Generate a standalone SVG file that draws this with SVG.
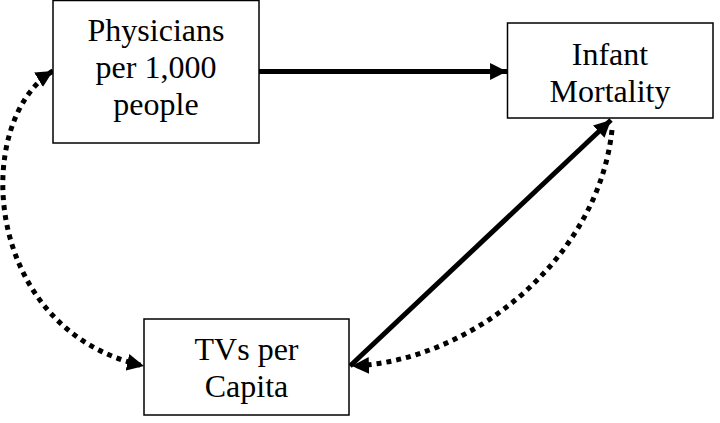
<svg xmlns="http://www.w3.org/2000/svg" width="720" height="423" viewBox="0 0 720 423">
<style>
.box{fill:#fff;stroke:#000;stroke-width:1.5}
.lbl{font-family:"Liberation Serif","Times New Roman",serif;font-size:32px;fill:#000;text-anchor:middle}
.solid{fill:none;stroke:#000;stroke-width:5}
.dot{fill:none;stroke:#000;stroke-width:5;stroke-dasharray:5 5}
</style>
<defs>
<marker id="ah" markerUnits="userSpaceOnUse" markerWidth="18" markerHeight="18" refX="16" refY="8" orient="auto-start-reverse" viewBox="0 0 17 16">
<path d="M0,0 L16,8 L0,16 Z" fill="#000"/>
</marker>
</defs>
<g id="connectors">
<line class="solid" x1="259" y1="71.5" x2="507" y2="71.5" marker-end="url(#ah)"/>
<line class="solid" x1="350" y1="366" x2="611" y2="120" marker-end="url(#ah)"/>
<path class="dot" d="M612,130 C598,260 470,362 352,366" marker-end="url(#ah)"/>
<path class="dot" d="M53,71 C-28,120 -20,330 144,366" marker-start="url(#ah)" marker-end="url(#ah)"/>
</g>
<g id="physicians">
<rect class="box" x="53" y="0.5" width="206" height="142.5"/>
<text class="lbl" x="156" y="41">Physicians</text>
<text class="lbl" x="156" y="78">per 1,000</text>
<text class="lbl" x="156" y="115">people</text>
</g>
<g id="infant">
<rect class="box" x="507.5" y="23" width="205.5" height="95"/>
<text class="lbl" x="610" y="65">Infant</text>
<text class="lbl" x="610" y="102">Mortality</text>
</g>
<g id="tvs">
<rect class="box" x="144" y="319" width="205" height="96"/>
<text class="lbl" x="246.5" y="360">TVs per</text>
<text class="lbl" x="246.5" y="397">Capita</text>
</g>
</svg>
